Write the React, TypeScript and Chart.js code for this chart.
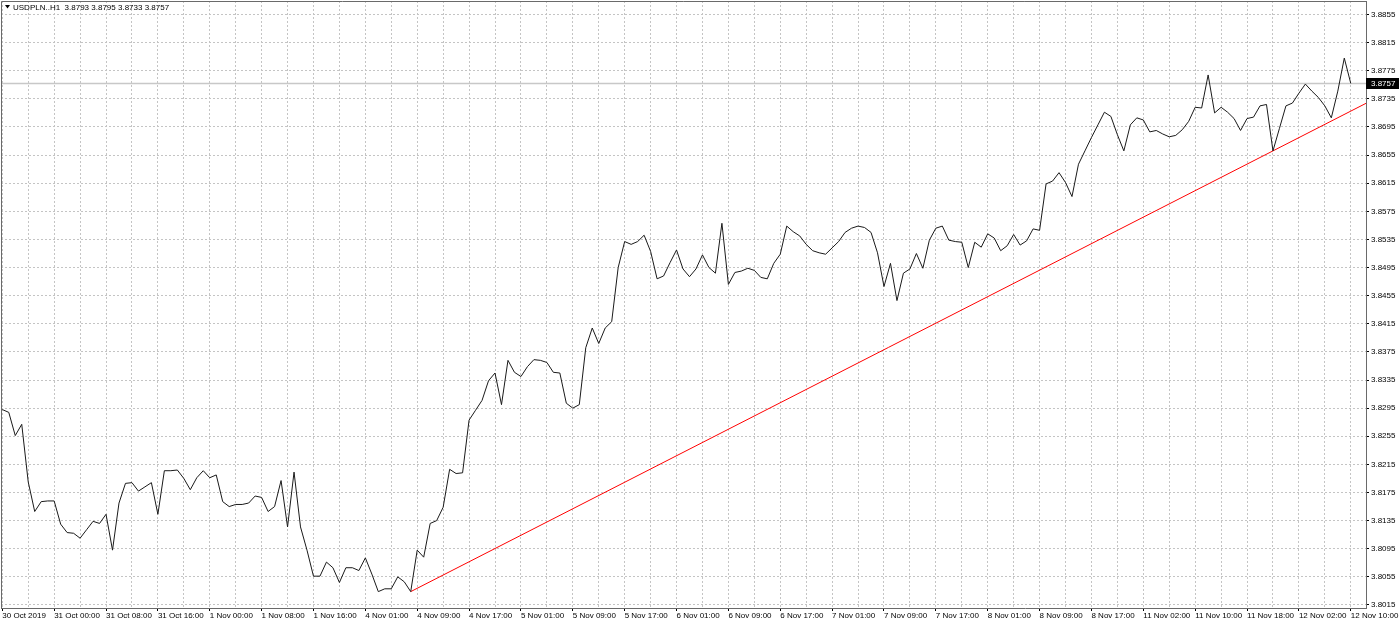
import React, { useEffect, useRef } from 'react';
import { Chart, registerables } from 'chart.js';

Chart.register(...registerables);

const symbolTitle = 'USDPLN..H1';
const lastBarOHLC = ['3.8793', '3.8795', '3.8733', '3.8757'];
const bidPrice = 3.8757;

// H1 close prices, 30 Oct 2019 16:00 .. 12 Nov 2019 10:00
const closes = [
  3.8293, 3.8289, 3.8256, 3.8272, 3.8190, 3.8148, 3.8162, 3.8163, 3.8163, 3.8130,
  3.8118, 3.8117, 3.8110, 3.8122, 3.8134, 3.8131, 3.8144, 3.8093, 3.8160, 3.8188,
  3.8189, 3.8177, 3.8183, 3.8189, 3.8144, 3.8206, 3.8206, 3.8207, 3.8195, 3.8179,
  3.8196, 3.8206, 3.8196, 3.8200, 3.8162, 3.8155, 3.8158, 3.8158, 3.8160, 3.8170,
  3.8168, 3.8148, 3.8155, 3.8192, 3.8126, 3.8204, 3.8126, 3.8093, 3.8056, 3.8056,
  3.8076, 3.8068, 3.8047, 3.8068, 3.8068, 3.8064, 3.8082, 3.8059, 3.8034, 3.8038,
  3.8038, 3.8055, 3.8048, 3.8034, 3.8093, 3.8083, 3.8131, 3.8135, 3.8154, 3.8208,
  3.8202, 3.8203, 3.8278, 3.8292, 3.8306, 3.8334, 3.8345, 3.8300, 3.8363, 3.8346,
  3.8340, 3.8354, 3.8364, 3.8363, 3.8360, 3.8346, 3.8345, 3.8302, 3.8295, 3.8300,
  3.8381, 3.8409, 3.8387, 3.8409, 3.8418, 3.8495, 3.8532, 3.8528, 3.8532, 3.8541,
  3.8518, 3.8479, 3.8483, 3.8502, 3.8520, 3.8493, 3.8482, 3.8493, 3.8513, 3.8495,
  3.8487, 3.8558, 3.8471, 3.8488, 3.8490, 3.8494, 3.8491, 3.8481, 3.8479, 3.8501,
  3.8514, 3.8554, 3.8546, 3.8540, 3.8528, 3.8519, 3.8516, 3.8514, 3.8523, 3.8532,
  3.8545, 3.8551, 3.8554, 3.8552, 3.8545, 3.8516, 3.8468, 3.8501, 3.8448, 3.8487,
  3.8493, 3.8515, 3.8494, 3.8534, 3.8551, 3.8554, 3.8534, 3.8532, 3.8531, 3.8495,
  3.8531, 3.8524, 3.8543, 3.8537, 3.8519, 3.8526, 3.8542, 3.8527, 3.8533, 3.8550,
  3.8548, 3.8614, 3.8618, 3.8630, 3.8616, 3.8596, 3.8642, 3.8661, 3.8680, 3.8698,
  3.8716, 3.8710, 3.8684, 3.8661, 3.8698, 3.8708, 3.8705, 3.8688, 3.8690, 3.8685,
  3.8681, 3.8683, 3.8691, 3.8703, 3.8723, 3.8722, 3.8769, 3.8715, 3.8723, 3.8716,
  3.8707, 3.8690, 3.8707, 3.8709, 3.8725, 3.8727, 3.8661, 3.8693, 3.8725, 3.8729,
  3.8743, 3.8756, 3.8746, 3.8737, 3.8725, 3.8708, 3.8746, 3.8793, 3.8757,
];

// one label every 8 bars, starting at bar 0
const xTickLabels = [
  '30 Oct 2019', '31 Oct 00:00', '31 Oct 08:00', '31 Oct 16:00', '1 Nov 00:00',
  '1 Nov 08:00', '1 Nov 16:00', '4 Nov 01:00', '4 Nov 09:00', '4 Nov 17:00',
  '5 Nov 01:00', '5 Nov 09:00', '5 Nov 17:00', '6 Nov 01:00', '6 Nov 09:00',
  '6 Nov 17:00', '7 Nov 01:00', '7 Nov 09:00', '7 Nov 17:00', '8 Nov 01:00',
  '8 Nov 09:00', '8 Nov 17:00', '11 Nov 02:00', '11 Nov 10:00', '11 Nov 18:00',
  '12 Nov 02:00', '12 Nov 10:00',
];

const yTickValues = [
  3.8015, 3.8055, 3.8095, 3.8135, 3.8175, 3.8215, 3.8255, 3.8295, 3.8335, 3.8375, 3.8415,
  3.8455, 3.8495, 3.8535, 3.8575, 3.8615, 3.8655, 3.8695, 3.8735, 3.8775, 3.8815, 3.8855,
];

const trendAnchorBars = [63, 196];

const X_MIN = -0.2;
const X_MAX = 210.35;
const Y_MIN = 3.80107;
const Y_MAX = 3.88742;
const FONT = "'Liberation Sans', Arial, sans-serif";

export default function App() {
  const ref = useRef<HTMLCanvasElement | null>(null);

  useEffect(() => {
    document.body.style.margin = '0';
    const canvas = ref.current;
    if (!canvas) return;

    const priceData = closes.map((v, i) => ({ x: i, y: v }));
    const [a, b] = trendAnchorBars;
    const slope = (closes[b] - closes[a]) / (b - a);
    const trendData = [
      { x: a, y: closes[a] },
      { x: X_MAX, y: closes[a] + slope * (X_MAX - a) },
    ];

    const overlay = {
      id: 'mt4Overlay',
      beforeDatasetsDraw(chart: any) {
        const { ctx, chartArea, scales } = chart;
        const y = Math.round(scales.y.getPixelForValue(bidPrice)) + 0.5;
        ctx.save();
        ctx.strokeStyle = '#c8c8c8';
        ctx.lineWidth = 1.5;
        ctx.beginPath();
        ctx.moveTo(chartArea.left, y);
        ctx.lineTo(chartArea.right, y);
        ctx.stroke();
        ctx.restore();
      },
      afterDraw(chart: any) {
        const { ctx, chartArea, scales } = chart;
        ctx.save();
        // frame
        ctx.strokeStyle = '#6a6a6a';
        ctx.lineWidth = 1;
        ctx.beginPath();
        ctx.moveTo(chartArea.left + 0.5, chartArea.bottom);
        ctx.lineTo(chartArea.left + 0.5, chartArea.top + 0.5);
        ctx.lineTo(chartArea.right, chartArea.top + 0.5);
        ctx.stroke();
        // title
        ctx.fillStyle = '#000';
        ctx.beginPath();
        ctx.moveTo(5, 5);
        ctx.lineTo(10, 5);
        ctx.lineTo(7.5, 8.5);
        ctx.closePath();
        ctx.fill();
        ctx.font = `8px ${FONT}`;
        ctx.textBaseline = 'middle';
        ctx.textAlign = 'left';
        ctx.fillText(`${symbolTitle}  ${lastBarOHLC.join(' ')}`, 13, 7.5);
        // bid price box
        const y = scales.y.getPixelForValue(bidPrice);
        ctx.fillStyle = '#000';
        ctx.fillRect(chartArea.right, Math.round(y) - 5, 33, 11);
        ctx.fillStyle = '#fff';
        ctx.fillText(bidPrice.toFixed(4), chartArea.right + 5, Math.round(y) + 0.5);
        ctx.restore();
      },
    };

    const chart = new Chart(canvas, {
      type: 'line',
      data: {
        datasets: [
          {
            data: priceData,
            borderColor: '#1a1a1a',
            borderWidth: 1,
            pointRadius: 0,
            tension: 0,
            fill: false,
          },
          {
            data: trendData,
            borderColor: '#ff0000',
            borderWidth: 1,
            pointRadius: 0,
            tension: 0,
            fill: false,
          },
        ],
      },
      options: {
        animation: false,
        responsive: false,
        devicePixelRatio: 1,
        events: [],
        layout: { padding: { left: 1, top: 1, right: 0, bottom: 0 } },
        plugins: { legend: { display: false }, tooltip: { enabled: false }, title: { display: false } },
        scales: {
          x: {
            type: 'linear',
            min: X_MIN,
            max: X_MAX,
            position: 'bottom',
            afterBuildTicks: (scale: any) => {
              const t = [];
              for (let i = 0; i < closes.length; i += 4) t.push({ value: i });
              scale.ticks = t;
            },
            afterFit: (scale: any) => {
              scale.height = 18;
              scale.paddingLeft = 0;
              scale.paddingRight = 0;
            },
            grid: {
              color: '#c4c4c4',
              lineWidth: 1,
              drawTicks: true,
              tickLength: 3,
              tickWidth: 1,
              tickColor: (ctx: any) => (ctx.tick && ctx.tick.value % 8 === 0 ? '#000' : 'rgba(0,0,0,0)'),
            },
            border: { display: true, color: '#6a6a6a', width: 1, dash: [2, 2] },
            ticks: {
              autoSkip: false,
              maxRotation: 0,
              minRotation: 0,
              align: 'start',
              padding: 0,
              color: '#000',
              font: { family: FONT, size: 8 },
              callback: (v: any) => {
                const n = Number(v);
                return n % 8 === 0 ? xTickLabels[n / 8] : '';
              },
            },
          },
          y: {
            type: 'linear',
            position: 'right',
            min: Y_MIN,
            max: Y_MAX,
            afterBuildTicks: (scale: any) => {
              scale.ticks = yTickValues.map((v) => ({ value: v }));
            },
            afterFit: (scale: any) => {
              scale.width = 34;
              scale.paddingTop = 0;
              scale.paddingBottom = 0;
            },
            grid: {
              color: '#c4c4c4',
              lineWidth: 1,
              drawTicks: true,
              tickLength: 3,
              tickWidth: 1,
              tickColor: '#000',
            },
            border: { display: true, color: '#6a6a6a', width: 1, dash: [2, 2] },
            ticks: {
              autoSkip: false,
              padding: 2,
              color: '#000',
              font: { family: FONT, size: 8 },
              callback: (v: any) => Number(v).toFixed(4),
            },
          },
        },
      },
      plugins: [overlay],
    } as any);

    return () => chart.destroy();
  }, []);

  return (
    <div style={{ position: 'fixed', left: 0, top: 0, width: 1400, height: 626, background: '#fff' }}>
      <canvas ref={ref} width={1400} height={626} style={{ display: 'block', width: 1400, height: 626 }} />
    </div>
  );
}
